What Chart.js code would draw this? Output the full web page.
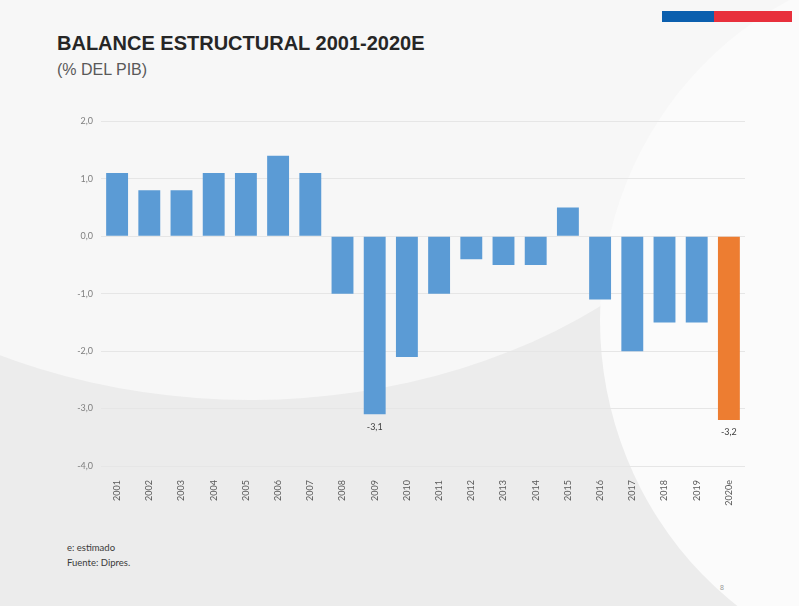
<!DOCTYPE html>
<html>
<head>
<meta charset="utf-8">
<script src="https://cdn.jsdelivr.net/npm/chart.js@4"></script>
<style>
  html, body { margin: 0; padding: 0; }
  body {
    width: 799px; height: 606px; overflow: hidden; position: relative;
    font-family: "Liberation Sans", Arial, sans-serif;
    background: #ececec;
  }
  .swoosh1 {
    position: absolute; left: -300px; top: -420px; width: 1100px; height: 820px;
    border-radius: 50%; background: #f7f7f7;
  }
  .swoosh2 {
    position: absolute; left: 600px; top: -40px; width: 700px; height: 720px;
    border-radius: 50%; background: #fbfbfb;
  }
  .flag { position: absolute; top: 11px; height: 11px; }
  #title { position: absolute; left: 57px; top: 32px; font-size: 20px; font-weight: bold; color: #262626; }
  #subtitle { position: absolute; left: 57px; top: 61px; font-size: 16px; color: #595959; }
  #notes { position: absolute; left: 67px; top: 540px; font-size: 9.5px; color: #3a3a3a; line-height: 15px; font-family: Lato, sans-serif; }
  #page { position: absolute; left: 720px; top: 584px; font-size: 7px; color: #999; }
  #wrap { position: absolute; left: 40px; top: 108px; width: 710px; height: 408px; }
</style>
</head>
<body>
<div class="swoosh1"></div>
<div class="swoosh2"></div>
<div class="flag" style="left:662px;width:52px;background:#0b5fae;"></div>
<div class="flag" style="left:714px;width:78px;background:#e8303c;"></div>
<div id="title">BALANCE ESTRUCTURAL 2001-2020E</div>
<div id="subtitle">(% DEL PIB)</div>
<div id="wrap"><canvas id="chart"></canvas></div>
<div id="notes">e: estimado<br>Fuente: Dipres.</div>
<div id="page">8</div>
<script>
const years = ['2001', '2002', '2003', '2004', '2005', '2006', '2007', '2008', '2009', '2010',
  '2011', '2012', '2013', '2014', '2015', '2016', '2017', '2018', '2019', '2020e'];
const balance = [1.1, 0.8, 0.8, 1.1, 1.1, 1.4, 1.1, -1.0, -3.1, -2.1,
  -1.0, -0.4, -0.5, -0.5, 0.5, -1.1, -2.0, -1.5, -1.5, -3.2];
const barColors = years.map(y => y === '2020e' ? '#ed7d31' : '#5b9bd5');
const labeledYears = ['2009', '2020e'];

const fmt = v => v.toFixed(1).replace('.', ',');

// labels under the two biggest deficits
const valueLabels = {
  id: 'valueLabels',
  afterDatasetsDraw(chart) {
    const ctx = chart.ctx;
    const meta = chart.getDatasetMeta(0);
    ctx.save();
    ctx.font = '9px Lato, sans-serif';
    ctx.fillStyle = '#404040';
    ctx.textAlign = 'center';
    ctx.textBaseline = 'top';
    meta.data.forEach((bar, i) => {
      if (labeledYears.includes(years[i])) {
        ctx.fillText(fmt(balance[i]), bar.x, bar.y + 8);
      }
    });
    ctx.restore();
  }
};

new Chart(document.getElementById('chart'), {
  type: 'bar',
  data: {
    labels: years,
    datasets: [{
      data: balance,
      backgroundColor: barColors,
      barPercentage: 0.68,
      categoryPercentage: 1
    }]
  },
  options: {
    responsive: true,
    maintainAspectRatio: false,
    animation: false,
    layout: { padding: { top: 10, right: 5 } },
    plugins: { legend: { display: false }, tooltip: { enabled: false } },
    scales: {
      y: {
        min: -4, max: 2,
        ticks: {
          stepSize: 1,
          color: '#7f7f7f',
          font: { family: 'Lato, sans-serif', size: 9 },
          callback: v => fmt(v),
          padding: 8
        },
        grid: { color: '#e6e6e6', drawTicks: false },
        border: { display: false },
        afterFit(axis) { axis.width = 61; }
      },
      x: {
        ticks: {
          color: '#595959',
          font: { family: 'Lato, sans-serif', size: 9 },
          maxRotation: 90, minRotation: 90,
          padding: 6
        },
        grid: { display: false },
        border: { display: false },
        afterFit(axis) { axis.height = 50; }
      }
    }
  },
  plugins: [valueLabels]
});
</script>
</body>
</html>
